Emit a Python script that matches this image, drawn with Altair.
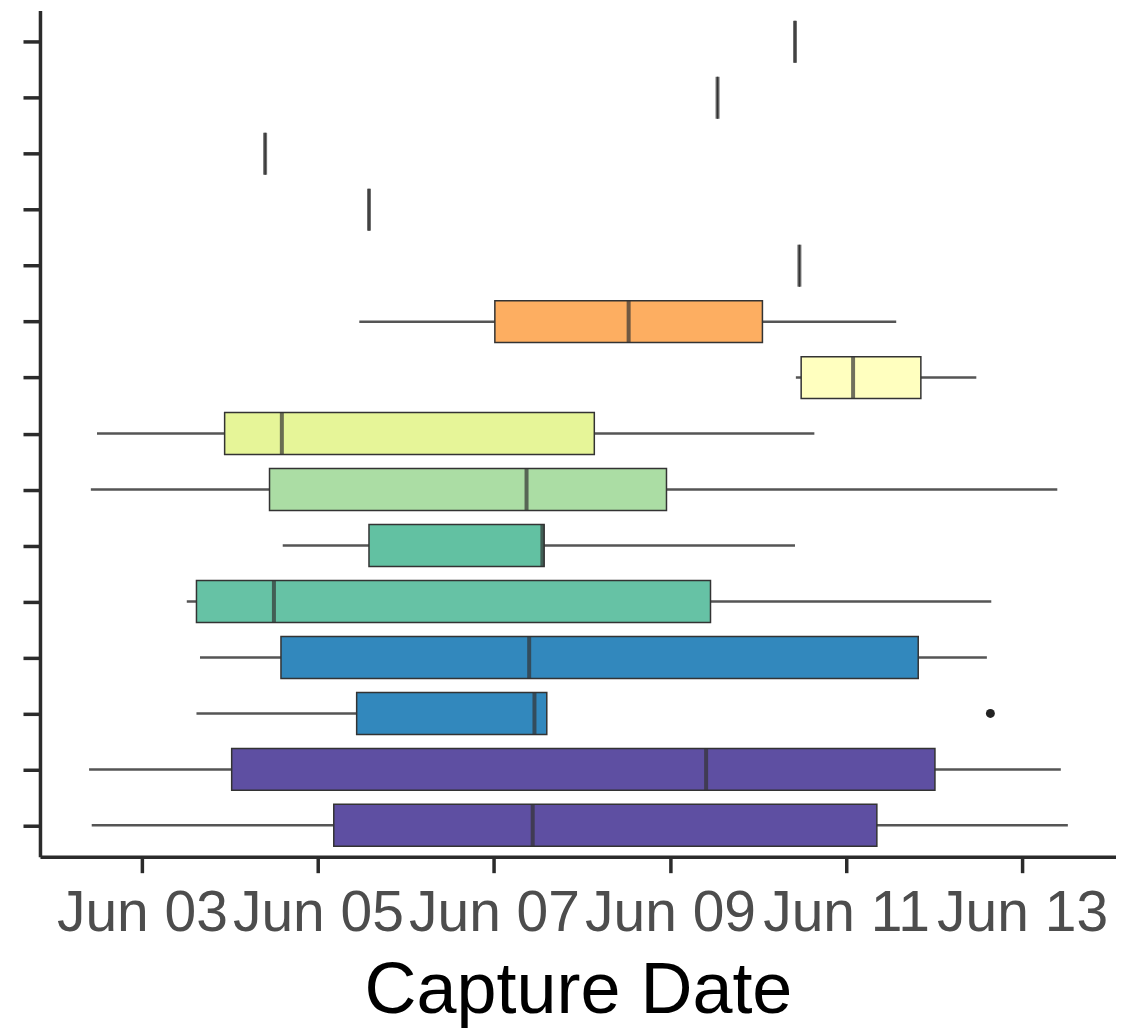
import altair as alt
import pandas as pd

# Groups from top to bottom (y axis has ticks but no labels)
groups = [f"G{i:02d}" for i in range(1, 16)]
# Values are days of June (e.g. 7.5 = Jun 07, 12:00)
lower  = [10.42, 9.54, 4.40, 5.58, 10.47, 5.47, 10.43, 2.49, 2.42, 4.60, 3.51, 3.66, 3.62, 2.40, 2.43]
q1     = [10.42, 9.54, 4.40, 5.58, 10.47, 7.01, 10.49, 3.94, 4.45, 5.58, 3.62, 4.58, 5.44, 4.02, 5.18]
median = [10.42, 9.54, 4.40, 5.58, 10.47, 8.53, 11.08, 4.59, 7.37, 7.55, 4.50, 7.40, 7.46, 9.41, 7.44]
q3     = [10.42, 9.54, 4.40, 5.58, 10.47, 10.05, 11.85, 8.14, 8.96, 7.57, 9.46, 11.82, 7.60, 12.01, 11.35]
upper  = [10.42, 9.54, 4.40, 5.58, 10.47, 11.57, 12.48, 10.64, 13.40, 10.42, 12.65, 12.60, 7.60, 13.44, 13.52]
fills  = ["#9e0142", "#d53e4f", "#f46d43", "#f46d43", "#fdae61", "#fdae61", "#ffffbf", "#e6f598",
          "#abdda4", "#62c1a2", "#66c2a5", "#3288bd", "#3288bd", "#5e4fa2", "#5e4fa2"]

outlier_group = ["G13"]
outlier_value = [12.64]

tick_days = [3, 5, 7, 9, 11, 13]

df = pd.DataFrame({"group": groups, "lower": lower, "q1": q1, "median": median,
                   "q3": q3, "upper": upper})
out_df = pd.DataFrame({"group": outlier_group, "value": outlier_value})

xscale = alt.Scale(domain=[1.842, 14.067], nice=False, zero=False)
yenc = alt.Y("group:N", sort=groups,
             scale=alt.Scale(type="point", padding=0.56),
             axis=alt.Axis(labels=False, title=None, ticks=True, tickSize=17,
                           tickWidth=3.5, tickColor="#2b2b2b", domainColor="#2b2b2b",
                           domainWidth=3.5, grid=False))
color = alt.Color("group:N", scale=alt.Scale(domain=groups, range=fills), legend=None)

xaxis = alt.Axis(values=tick_days,
                 labelExpr="'Jun ' + (datum.value < 10 ? '0' : '') + datum.value",
                 title="Capture Date", grid=False, labelOverlap=False, labelFlush=False,
                 tickSize=16, tickWidth=3.5, tickColor="#2b2b2b",
                 domainColor="#2b2b2b", domainWidth=3.5,
                 labelFontSize=57, labelColor="#4d4d4d", labelFont="Liberation Sans",
                 labelPadding=13,
                 titleFontSize=72, titleColor="#000000", titleFont="Liberation Sans",
                 titleFontWeight="normal", titlePadding=14)

base = alt.Chart(df)

whisker = base.mark_rule(color="#555555", strokeWidth=2.5).encode(
    x=alt.X("lower:Q", scale=xscale, axis=xaxis, title="Capture Date"),
    x2="upper:Q",
    y=yenc,
)

box = base.mark_bar(size=42, stroke="#333333", strokeWidth=1.5).encode(
    x=alt.X("q1:Q", scale=xscale, axis=xaxis, title="Capture Date"),
    x2="q3:Q",
    y=yenc,
    color=color,
)

med = base.mark_tick(size=42, thickness=4, color="#333333").encode(
    x=alt.X("median:Q", scale=xscale, axis=xaxis, title="Capture Date"),
    y=yenc,
)

outl = alt.Chart(out_df).mark_circle(size=80, color="#222222", opacity=1).encode(
    x=alt.X("value:Q", scale=xscale, axis=xaxis, title="Capture Date"),
    y=yenc,
)

chart = alt.layer(whisker, box, med, outl).properties(
    width=1077, height=847,
    autosize=alt.AutoSizeParams(type="none"),
    padding={"left": 32, "top": 2, "right": 0, "bottom": 176},
).configure_view(stroke=None)

chart.save("out.html", embed_options={"renderer": "svg", "actions": False})
